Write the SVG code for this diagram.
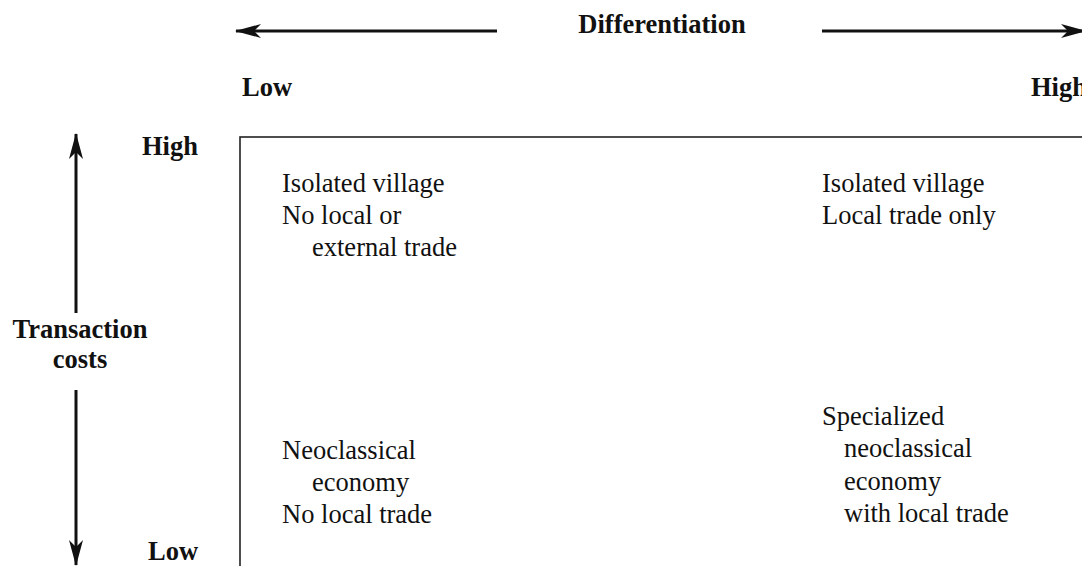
<svg xmlns="http://www.w3.org/2000/svg" width="1082" height="566" viewBox="0 0 1082 566">
  <style>
    .lbl { font-family: "Liberation Serif", "Times New Roman", serif; font-size: 26.5px; fill: #111; }
    .bold { font-weight: bold; }
    .axis { stroke: #111; stroke-width: 3; fill: none; }
    .frame { stroke: #222; stroke-width: 1.6; fill: none; }
  </style>
  <defs>
    <marker id="head" viewBox="0 0 26 14" refX="25" refY="7" markerWidth="26" markerHeight="14" markerUnits="userSpaceOnUse" orient="auto">
      <path d="M0,0 L26,7 L0,14 L7,7 Z" fill="#111"/>
    </marker>
  </defs>

  <rect width="1082" height="566" fill="#fff"/>

  <!-- axes -->
  <g id="connectors">
    <line class="axis" x1="497" y1="31" x2="236" y2="31" marker-end="url(#head)"/>
    <line class="axis" x1="822" y1="31" x2="1086" y2="31" marker-end="url(#head)"/>
    <line class="axis" x1="76" y1="313" x2="76" y2="134" marker-end="url(#head)"/>
    <line class="axis" x1="76" y1="390" x2="76" y2="565" marker-end="url(#head)"/>
  </g>

  <!-- axis labels -->
  <g id="x-axis-labels">
    <text class="lbl bold" x="662" y="33" text-anchor="middle">Differentiation</text>
    <text class="lbl bold" x="242" y="96">Low</text>
    <text class="lbl bold" x="1031" y="96">High</text>
  </g>
  <g id="y-axis-labels">
    <text class="lbl bold" x="142" y="155">High</text>
    <text class="lbl bold" x="80" y="338" text-anchor="middle">Transaction</text>
    <text class="lbl bold" x="80" y="368" text-anchor="middle">costs</text>
    <text class="lbl bold" x="148" y="560">Low</text>
  </g>

  <!-- matrix frame -->
  <g id="frame">
    <rect class="frame" x="240" y="137" width="900" height="500"/>
  </g>

  <g id="cell-high-low">
    <text class="lbl" x="282" y="192">Isolated village</text>
    <text class="lbl" x="282" y="224">No local or</text>
    <text class="lbl" x="312" y="256">external trade</text>
  </g>
  <g id="cell-high-high">
    <text class="lbl" x="822" y="192">Isolated village</text>
    <text class="lbl" x="822" y="224">Local trade only</text>
  </g>
  <g id="cell-low-low">
    <text class="lbl" x="282" y="459">Neoclassical</text>
    <text class="lbl" x="312" y="491">economy</text>
    <text class="lbl" x="282" y="523">No local trade</text>
  </g>
  <g id="cell-low-high">
    <text class="lbl" x="822" y="425">Specialized</text>
    <text class="lbl" x="844" y="457">neoclassical</text>
    <text class="lbl" x="844" y="490">economy</text>
    <text class="lbl" x="844" y="522">with local trade</text>
  </g>
</svg>
